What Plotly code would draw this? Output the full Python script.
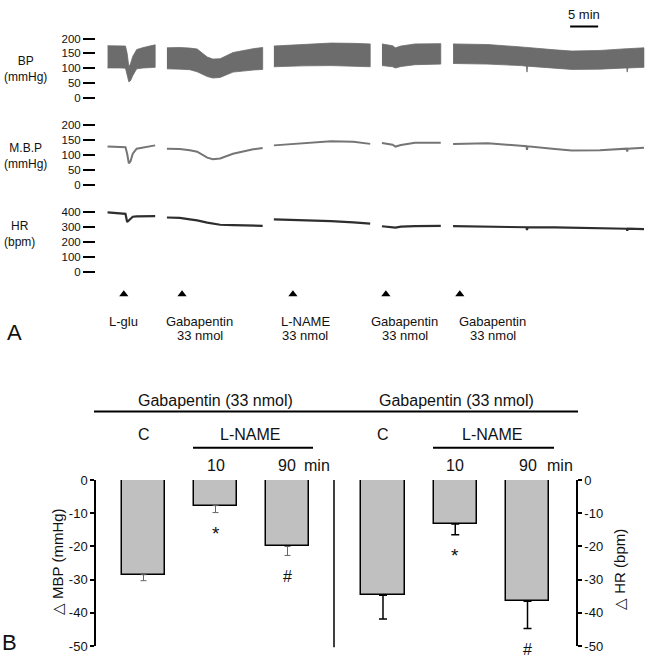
import plotly.graph_objects as go

W, H = 646, 661
FONT = "Liberation Sans, Arial, sans-serif"


def px(x):
    return x / W


def py(y):
    return 1 - y / H


# ---------------- Panel A: traces (time in minutes) ----------------
seg_t = [
    [0.1, 2.5, 3.3, 3.6, 3.9, 4.2, 4.6, 5.3, 6.5, 8.6],
    [10.7, 13.0, 14.8, 16.1, 17.9, 18.9, 20.2, 22.5, 26.1, 27.8],
    [29.8, 35.0, 40.0, 44.0, 47.0],
    [49.1, 51.0, 51.5, 52.5, 55.0, 59.6],
    [61.8, 68.0, 73.9, 74.9, 75.0, 75.1, 80.0, 83.0, 88.0, 92.8, 92.9, 93.0, 95.9],
]
bp_upper = [
    [176, 176, 175, 150, 105, 115, 140, 163, 170, 179],
    [169, 170, 168, 165, 138, 131, 132, 153, 166, 170],
    [175, 181, 185, 184, 182],
    [182, 176, 169, 175, 182, 183],
    [182, 180, 172, 170, 170, 170, 162, 158, 160, 166, 166, 166, 169],
]
bp_lower = [
    [101, 101, 100, 80, 54, 58, 75, 98, 101, 103],
    [98, 97, 95, 88, 72, 67, 69, 87, 94, 96],
    [105, 108, 109, 107, 105],
    [109, 105, 101, 106, 112, 114],
    [116, 114, 109, 107, 87, 107, 100, 96, 97, 101, 87, 101, 103],
]
mbp = [
    [129, 128, 127, 105, 73, 80, 105, 122, 126, 133],
    [122, 121, 117, 112, 92, 87, 89, 105, 120, 124],
    [133, 140, 147, 145, 138],
    [141, 135, 129, 134, 142, 142],
    [138, 140, 132, 130, 118, 130, 121, 116, 117, 122, 112, 122, 125],
]
hr = [
    [400, 394, 390, 334, 345, 360, 370, 372, 372, 374],
    [365, 362, 352, 345, 330, 323, 316, 314, 310, 308],
    [352, 348, 340, 332, 323],
    [306, 302, 296, 303, 307, 308],
    [306, 304, 300, 299, 280, 299, 298, 296, 293, 289, 275, 289, 286],
]

arrow_t = [3.0, 13.4, 33.2, 49.8, 63.0]
label_t = [3.0, 16.6, 35.4, 53.2, 68.9]
label_line1 = ["L-glu", "Gabapentin", "L-NAME", "Gabapentin", "Gabapentin"]
label_line2 = ["", "33 nmol", "33 nmol", "33 nmol", "33 nmol"]

bp_ticks = [0, 50, 100, 150, 200]
mbp_ticks = [0, 50, 100, 150, 200]
hr_ticks = [0, 100, 200, 300, 400]
scale_bar_min = [82.7, 87.7]

# ---------------- Panel B: bars ----------------
groups = [1, 2, 3]
mbp_mean = [-28.5, -7.7, -20.0]
mbp_sem = [1.8, 2.1, 2.7]
hr_mean = [-34.7, -13.2, -36.5]
hr_sem = [7.1, 3.3, 8.2]
sig = ["", "*", "#"]
bar_ticks = [0, -10, -20, -30, -40, -50]

fig = go.Figure()

BPC = "#6c6c6c"
for i in range(len(seg_t)):
    xs = seg_t[i] + seg_t[i][::-1]
    ys = bp_upper[i] + bp_lower[i][::-1]
    fig.add_trace(go.Scatter(x=xs, y=ys, fill="toself", fillcolor=BPC,
                             line=dict(color=BPC, width=0.8), mode="lines",
                             xaxis="x", yaxis="y", hoverinfo="skip", showlegend=False))
    fig.add_trace(go.Scatter(x=seg_t[i], y=mbp[i], mode="lines",
                             line=dict(color="#757575", width=2),
                             xaxis="x", yaxis="y2", showlegend=False))
    fig.add_trace(go.Scatter(x=seg_t[i], y=hr[i], mode="lines",
                             line=dict(color="#2e2e2e", width=2.2),
                             xaxis="x", yaxis="y3", showlegend=False))

fig.add_trace(go.Scatter(x=arrow_t, y=[0.5] * len(arrow_t), mode="markers",
                         marker=dict(symbol="triangle-up", size=8, color="black"),
                         xaxis="x", yaxis="y4", showlegend=False))

bar_fill = "#c0c0c0"
fig.add_trace(go.Bar(x=groups, y=mbp_mean, width=0.6, xaxis="x2", yaxis="y5",
                     marker=dict(color=bar_fill, line=dict(color="black", width=1.5)),
                     error_y=dict(type="data", symmetric=False, array=[0, 0, 0],
                                  arrayminus=mbp_sem, color="#666666", thickness=1, width=3),
                     cliponaxis=False, showlegend=False))
fig.add_trace(go.Bar(x=groups, y=hr_mean, width=0.6, xaxis="x3", yaxis="y6",
                     marker=dict(color=bar_fill, line=dict(color="black", width=1.5)),
                     error_y=dict(type="data", symmetric=False, array=[0, 0, 0],
                                  arrayminus=hr_sem, color="black", thickness=1.5, width=4),
                     cliponaxis=False, showlegend=False))

trace_y_common = dict(anchor="free", position=px(95), side="left", ticks="outside",
                      ticklen=12, tickwidth=2, tickcolor="black", showline=False,
                      showgrid=False, zeroline=False,
                      tickfont=dict(family=FONT, size=11.5, color="#111"))

bar_y_common = dict(range=[-50, 0], tickvals=bar_ticks, ticktext=[str(v) for v in bar_ticks],
                    ticks="outside", ticklen=4, tickwidth=1.5, tickcolor="black",
                    showline=True, linewidth=1.5, linecolor="black",
                    showgrid=False, zeroline=False,
                    tickfont=dict(family=FONT, size=13, color="#111"),
                    domain=[py(654), py(484)])

fig.update_layout(
    width=W, height=H, margin=dict(l=0, r=0, t=0, b=0),
    paper_bgcolor="white", plot_bgcolor="rgba(0,0,0,0)",
    font=dict(family=FONT, color="#111"),
    bargap=0,
    xaxis=dict(domain=[px(107), px(107 + 96 * 5.6)], range=[0, 96], visible=False),
    yaxis=dict(domain=[py(94.5), py(27.8)], range=[-5, 215], tickvals=bp_ticks, **trace_y_common),
    yaxis2=dict(domain=[py(183.8), py(116.5)], range=[-5, 215], tickvals=mbp_ticks, **trace_y_common),
    yaxis3=dict(domain=[py(272.2), py(204.0)], range=[-10, 440], tickvals=hr_ticks, **trace_y_common),
    yaxis4=dict(domain=[py(305), py(283)], range=[0, 1], visible=False, anchor="x"),
    xaxis2=dict(domain=[px(96), px(334)], range=[0.34, 3.646], visible=False, anchor="y5"),
    xaxis3=dict(domain=[px(334), px(576)], range=[0.322, 3.671], visible=False, anchor="y6"),
    yaxis5=dict(anchor="x2", side="left", **bar_y_common),
    yaxis6=dict(anchor="x3", side="right", **bar_y_common),
)

shapes = [
    dict(type="line", xref="x", yref="paper", x0=scale_bar_min[0], x1=scale_bar_min[1],
         y0=py(20), y1=py(20), line=dict(color="black", width=2)),
    dict(type="line", xref="paper", yref="paper", x0=px(334), x1=px(334),
         y0=py(484), y1=py(655), line=dict(color="black", width=1.5)),
    dict(type="line", xref="paper", yref="paper", x0=px(94), x1=px(578),
         y0=py(414), y1=py(414), line=dict(color="black", width=2)),
    dict(type="line", xref="paper", yref="paper", x0=px(193), x1=px(313),
         y0=py(451), y1=py(451), line=dict(color="black", width=2)),
    dict(type="line", xref="paper", yref="paper", x0=px(433), x1=px(554),
         y0=py(451), y1=py(451), line=dict(color="black", width=2)),
]
fig.update_layout(shapes=shapes)

anns = []


def ann(text, x, y, size, xref="paper", xanchor="center", yanchor="middle", **kw):
    if xref == "paper":
        x = px(x)
    anns.append(dict(text=text, x=x, y=py(y), xref=xref, yref="paper", showarrow=False,
                     xanchor=xanchor, yanchor=yanchor,
                     font=dict(family=FONT, size=size, color="#111"), **kw))


# Panel A labels
ann("BP<br>(mmHg)", 2, 63.5, 12, xanchor="left", align="center")
ann("M.B.P<br>(mmHg)", 2, 152, 12, xanchor="left", align="center")
ann("HR<br>(bpm)", 2, 232, 12, xanchor="left", align="center")
ann("5 min", (scale_bar_min[0] + scale_bar_min[1]) / 2, 8, 13, xref="x")
for t, l1, l2 in zip(label_t, label_line1, label_line2):
    ann(l1, t, 322, 13, xref="x")
    if l2:
        ann(l2, t, 336, 13, xref="x")
ann("A", 14, 333, 22)
ann("B", 9, 650, 22)

# Panel B labels
ann("Gabapentin (33 nmol)", 216, 403, 16)
ann("Gabapentin (33 nmol)", 456, 403, 16)
ann("C", groups[0], 437, 16, xref="x2")
ann("C", groups[0], 437, 16, xref="x3")
ann("L-NAME", 250, 437, 16)
ann("L-NAME", 492, 437, 16)
ann("10", groups[1], 469, 16, xref="x2")
ann("90", groups[2], 469, 16, xref="x2")
ann("min", 317, 469, 16)
ann("10", groups[1], 469, 16, xref="x3")
ann("90", groups[2], 469, 16, xref="x3")
ann("min", 560, 469, 16)
ann("△ MBP (mmHg)", 57, 568, 15, textangle=-90)
ann("△ HR (bpm)", 620, 576, 15, textangle=-90)

# significance marks below error bars
mark_size = {"*": 19, "#": 16}
mark_shift = {"*": -21, "#": -21}
for xr, yr, means, sems in (("x2", "y5", mbp_mean, mbp_sem),
                            ("x3", "y6", hr_mean, hr_sem)):
    for g, m, s, mark in zip(groups, means, sems, sig):
        if mark:
            anns.append(dict(text=mark, x=g, y=m - s, xref=xr, yref=yr, showarrow=False,
                             xanchor="center", yanchor="middle", yshift=mark_shift[mark],
                             font=dict(family=FONT, size=mark_size[mark], color="#111")))

fig.update_layout(annotations=anns)

fig.write_html("out.html", config={"displayModeBar": False},
               post_script="document.body.style.margin='0';")
